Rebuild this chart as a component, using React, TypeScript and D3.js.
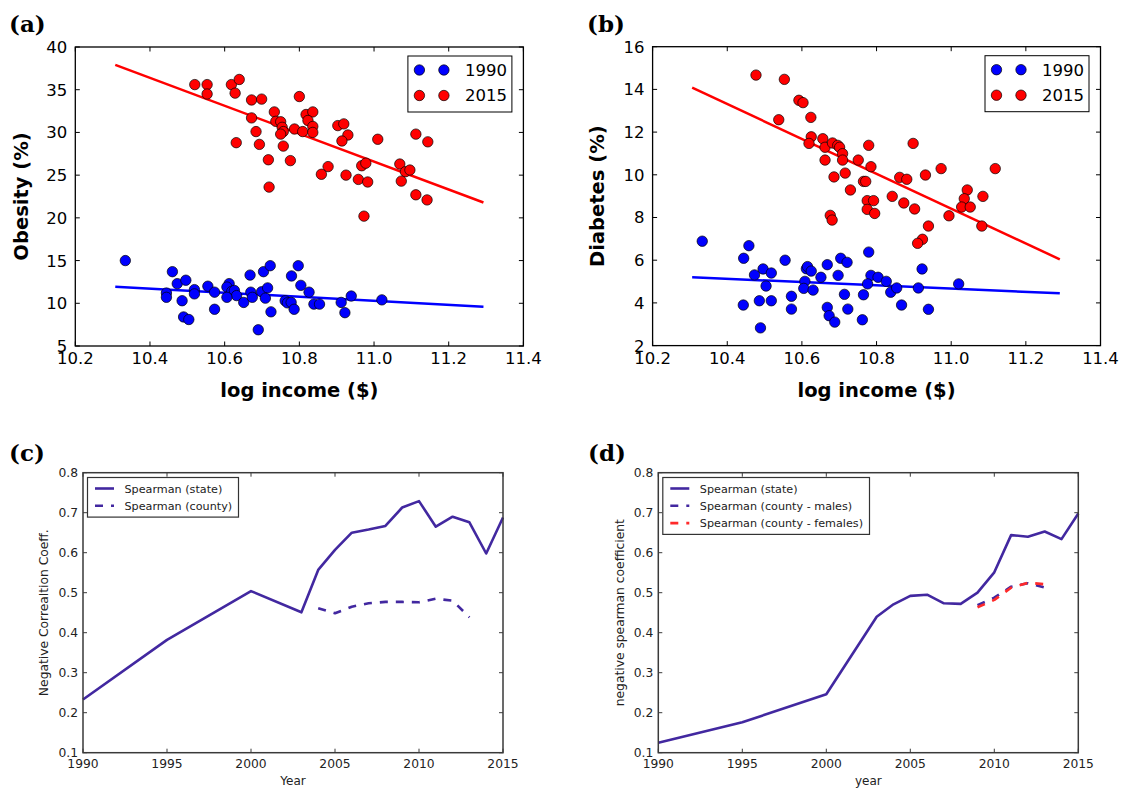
import React from 'react';
import * as d3 from 'd3';

// ---- panel (a) / (b) data : [log income, value]
const obesity1990: [number, number][] = [
  [10.334, 15.0], [10.46, 13.7], [10.473, 12.3], [10.496, 12.7], [10.444, 11.2], [10.444, 10.7],
  [10.486, 10.3], [10.519, 11.6], [10.519, 11.1], [10.49, 8.4], [10.504, 8.1], [10.555, 12.0],
  [10.573, 11.3], [10.573, 9.3], [10.612, 12.3], [10.606, 11.9], [10.619, 11.4], [10.626, 11.5],
  [10.632, 10.9], [10.606, 10.7], [10.651, 10.1], [10.668, 13.3], [10.67, 11.3], [10.674, 10.7],
  [10.69, 6.9], [10.704, 13.7], [10.722, 14.4], [10.699, 11.35], [10.715, 11.8], [10.709, 10.6],
  [10.724, 9.0], [10.762, 10.3], [10.768, 10.05], [10.778, 10.1], [10.786, 9.3], [10.779, 13.2],
  [10.797, 14.4], [10.804, 12.1], [10.826, 11.3], [10.839, 9.9], [10.854, 9.9], [10.912, 10.1],
  [10.922, 8.9], [10.939, 10.85], [11.021, 10.4],
];
const obesity2015: [number, number][] = [
  [10.52, 35.6], [10.553, 35.6], [10.553, 34.5], [10.618, 35.6], [10.639, 36.2], [10.628, 34.6],
  [10.672, 33.8], [10.699, 33.9], [10.8, 34.2], [10.672, 31.7], [10.733, 32.4], [10.737, 31.3],
  [10.75, 31.25], [10.754, 30.6], [10.757, 30.1], [10.75, 29.8], [10.684, 30.1], [10.693, 28.6],
  [10.631, 28.8], [10.757, 28.4], [10.717, 26.8], [10.776, 26.7], [10.719, 23.6], [10.787, 30.4],
  [10.809, 30.1], [10.818, 32.1], [10.836, 32.4], [10.823, 31.4], [10.836, 30.7], [10.836, 30.0],
  [10.903, 30.8], [10.919, 31.0], [10.93, 29.7], [10.914, 29.0], [11.01, 29.2], [10.877, 26.0],
  [10.859, 25.1], [10.925, 25.0], [10.967, 26.1], [10.978, 26.4], [10.958, 24.5], [10.983, 24.2],
  [10.973, 20.2], [11.069, 26.3], [11.084, 25.4], [11.096, 25.6], [11.073, 24.3], [11.112, 29.8],
  [11.144, 28.9], [11.112, 22.7], [11.142, 22.1],
];
const diabetes1990: [number, number][] = [
  [10.333, 6.89], [10.458, 6.68], [10.444, 6.09], [10.555, 6.0], [10.496, 5.59], [10.518, 5.4],
  [10.473, 5.31], [10.504, 4.79], [10.443, 3.9], [10.486, 4.1], [10.518, 4.1], [10.489, 2.83],
  [10.572, 4.31], [10.572, 3.71], [10.612, 5.6], [10.615, 5.7], [10.625, 5.49], [10.608, 5.01],
  [10.605, 4.68], [10.63, 4.6], [10.651, 5.2], [10.668, 5.79], [10.704, 6.09], [10.721, 5.9],
  [10.697, 5.29], [10.714, 4.4], [10.668, 3.79], [10.673, 3.4], [10.688, 3.1], [10.723, 3.71],
  [10.779, 6.38], [10.785, 5.29], [10.804, 5.2], [10.776, 4.89], [10.765, 4.38], [10.762, 3.21],
  [10.826, 5.01], [10.838, 4.5], [10.854, 4.7], [10.867, 3.9], [10.912, 4.7], [10.922, 5.59],
  [10.939, 3.7], [11.02, 4.89],
];
const diabetes2015: [number, number][] = [
  [10.477, 14.67], [10.553, 14.47], [10.592, 13.49], [10.603, 13.38], [10.538, 12.58], [10.624, 12.69],
  [10.625, 11.78], [10.619, 11.47], [10.656, 11.69], [10.662, 11.29], [10.662, 10.69], [10.682, 11.49],
  [10.696, 11.38], [10.701, 11.29], [10.709, 10.99], [10.709, 10.69], [10.779, 11.38], [10.751, 10.69],
  [10.716, 10.08], [10.686, 9.9], [10.73, 9.29], [10.765, 9.69], [10.771, 9.69], [10.785, 10.38],
  [10.676, 8.1], [10.681, 7.88], [10.775, 8.79], [10.792, 8.79], [10.775, 8.38], [10.795, 8.19],
  [10.898, 11.47], [10.862, 9.88], [10.881, 9.79], [10.931, 9.99], [10.973, 10.29], [10.842, 8.99],
  [10.873, 8.68], [10.902, 8.4], [10.994, 8.08], [10.939, 7.6], [10.923, 6.98], [10.91, 6.79],
  [11.043, 9.29], [11.035, 8.88], [11.028, 8.49], [11.051, 8.49], [11.085, 8.99], [11.082, 7.6],
  [11.118, 10.29],
];
// fitted lines, endpoints in data units
const obesityFit1990: [number, number][] = [[10.307, 11.93], [11.293, 9.6]];
const obesityFit2015: [number, number][] = [[10.307, 37.9], [11.293, 21.8]];
const diabetesFit1990: [number, number][] = [[10.306, 5.2], [11.291, 4.45]];
const diabetesFit2015: [number, number][] = [[10.306, 14.08], [11.291, 6.04]];

const incomeTicks = [10.2, 10.4, 10.6, 10.8, 11.0, 11.2, 11.4];
const obesityTicks = [5, 10, 15, 20, 25, 30, 35, 40];
const diabetesTicks = [2, 4, 6, 8, 10, 12, 14, 16];

// ---- panel (c) / (d) data
const yearsC = [1990, 1995, 2000, 2003, 2004, 2005, 2006, 2007, 2008, 2009, 2010, 2011, 2012, 2013, 2014, 2015];
const stateC = [0.233, 0.382, 0.504, 0.451, 0.557, 0.607, 0.65, 0.658, 0.667, 0.713, 0.729, 0.665, 0.69, 0.676, 0.598, 0.688];
const countyYearsC = [2004, 2005, 2006, 2007, 2008, 2009, 2010, 2011, 2012, 2013];
const countyC = [0.461, 0.4485, 0.465, 0.4735, 0.477, 0.477, 0.476, 0.485, 0.48, 0.4385];

const yearsD = [1990, 1995, 2000, 2003, 2004, 2005, 2006, 2007, 2008, 2009, 2010, 2011, 2012, 2013, 2014, 2015];
const stateD = [0.125, 0.176, 0.246, 0.44, 0.471, 0.492, 0.495, 0.4735, 0.472, 0.5, 0.551, 0.644, 0.64, 0.653, 0.634, 0.698];
const countyYearsD = [2009, 2010, 2011, 2012, 2013];
const malesD = [0.4685, 0.4875, 0.515, 0.5235, 0.513];
const femalesD = [0.4635, 0.482, 0.5125, 0.525, 0.521];

const yearTicks = [1990, 1995, 2000, 2005, 2010, 2015];
const coeffTicks = [0.1, 0.2, 0.3, 0.4, 0.5, 0.6, 0.7, 0.8];

const SANS = 'DejaVu Sans';
const PURPLE = '#4228a0';

type Box = { left: number; right: number; top: number; bottom: number };

const Scatter = ({ box, yDomain, yTicks, ylabel, ylabelX, blue, red, blueFit, redFit, label, labelX }: any) => {
  const x = d3.scaleLinear().domain([10.2, 11.4]).range([box.left, box.right]);
  const y = d3.scaleLinear().domain(yDomain).range([box.bottom, box.top]);
  const line = d3.line<[number, number]>().x(d => x(d[0])).y(d => y(d[1]));
  const lx = box.right - 115.5;
  const ly = box.top + 9;
  return (
    <g>
      <text x={labelX} y={32} fontFamily="DejaVu Serif" fontWeight="bold" fontSize={23}>{label}</text>
      <path d={line(redFit) || ''} stroke="#ff0000" strokeWidth={2.5} fill="none" />
      <path d={line(blueFit) || ''} stroke="#0000ff" strokeWidth={2.5} fill="none" />
      {red.map((d: [number, number], i: number) => (
        <circle key={'r' + i} cx={x(d[0])} cy={y(d[1])} r={5.2} fill="#ff0000" stroke="#000" strokeWidth={0.7} />
      ))}
      {blue.map((d: [number, number], i: number) => (
        <circle key={'b' + i} cx={x(d[0])} cy={y(d[1])} r={5.2} fill="#0000ff" stroke="#000" strokeWidth={0.7} />
      ))}
      <rect x={box.left} y={box.top} width={box.right - box.left} height={box.bottom - box.top} fill="none" stroke="#000" strokeWidth={1.3} />
      {incomeTicks.map(t => (
        <g key={'x' + t}>
          <line x1={x(t)} x2={x(t)} y1={box.bottom} y2={box.bottom - 4.5} stroke="#000" />
          <line x1={x(t)} x2={x(t)} y1={box.top} y2={box.top + 4.5} stroke="#000" />
          <text x={x(t)} y={364} textAnchor="middle" fontFamily={SANS} fontSize={16.5}>{t.toFixed(1)}</text>
        </g>
      ))}
      {yTicks.map((t: number) => (
        <g key={'y' + t}>
          <line x1={box.left} x2={box.left + 4.5} y1={y(t)} y2={y(t)} stroke="#000" />
          <line x1={box.right} x2={box.right - 4.5} y1={y(t)} y2={y(t)} stroke="#000" />
          <text x={box.left - 8} y={y(t)} dy="0.36em" textAnchor="end" fontFamily={SANS} fontSize={16.5}>{t}</text>
        </g>
      ))}
      <text x={(box.left + box.right) / 2} y={397} textAnchor="middle" fontFamily={SANS} fontWeight="bold" fontSize={19.5}>log income ($)</text>
      <text transform={`translate(${ylabelX},${(box.top + box.bottom) / 2}) rotate(-90)`} textAnchor="middle" fontFamily={SANS} fontWeight="bold" fontSize={19.5}>{ylabel}</text>
      <rect x={lx} y={ly} width={104} height={56} fill="#fff" stroke="#000" strokeWidth={1} />
      {[['#0000ff', '1990'], ['#ff0000', '2015']].map(([c, t], i) => (
        <g key={t}>
          <circle cx={lx + 11.5} cy={ly + 14 + i * 25.5} r={5.2} fill={c} stroke="#000" strokeWidth={0.7} />
          <circle cx={lx + 36} cy={ly + 14 + i * 25.5} r={5.2} fill={c} stroke="#000" strokeWidth={0.7} />
          <text x={lx + 57} y={ly + 14 + i * 25.5} dy="0.36em" fontFamily={SANS} fontSize={16.5}>{t}</text>
        </g>
      ))}
    </g>
  );
};

const LinePanel = ({ box, series, ylabel, ylabelX, xlabel, label, labelX, legendW }: any) => {
  const x = d3.scaleLinear().domain([1990, 2015]).range([box.left, box.right]);
  const y = d3.scaleLinear().domain([0.1, 0.8]).range([box.bottom, box.top]);
  const line = d3.line<[number, number]>().x(d => x(d[0])).y(d => y(d[1]));
  const lx = box.left + 4.5;
  const ly = box.top + 4.8;
  const rowH = 17.3;
  return (
    <g>
      <text x={labelX} y={461} fontFamily="DejaVu Serif" fontWeight="bold" fontSize={23}>{label}</text>
      {series.map((s: any) => (
        <path key={s.name} d={line(s.xs.map((v: number, i: number) => [v, s.ys[i]])) || ''} stroke={s.color}
          strokeWidth={2.6} fill="none" strokeDasharray={s.dash || null} strokeLinejoin="round" />
      ))}
      <rect x={box.left} y={box.top} width={box.right - box.left} height={box.bottom - box.top} fill="none" stroke="#3a3a3a" strokeWidth={1.5} />
      {yearTicks.map(t => (
        <g key={'x' + t}>
          <line x1={x(t)} x2={x(t)} y1={box.bottom} y2={box.bottom - 4} stroke="#3a3a3a" />
          <line x1={x(t)} x2={x(t)} y1={box.top} y2={box.top + 4} stroke="#3a3a3a" />
          <text x={x(t)} y={768} textAnchor="middle" fontFamily={SANS} fontSize={12.3} fill="#222">{t}</text>
        </g>
      ))}
      {coeffTicks.map(t => (
        <g key={'y' + t}>
          <line x1={box.left} x2={box.left + 4} y1={y(t)} y2={y(t)} stroke="#3a3a3a" />
          <line x1={box.right} x2={box.right - 4} y1={y(t)} y2={y(t)} stroke="#3a3a3a" />
          <text x={box.left - 5} y={y(t)} dy="0.36em" textAnchor="end" fontFamily={SANS} fontSize={12.3} fill="#222">{t.toFixed(1)}</text>
        </g>
      ))}
      <text x={(box.left + box.right) / 2} y={785} textAnchor="middle" fontFamily={SANS} fontSize={12} fill="#222">{xlabel}</text>
      <text transform={`translate(${ylabelX},${(box.top + box.bottom) / 2}) rotate(-90)`} textAnchor="middle" fontFamily={SANS} fontSize={12.3} fill="#222">{ylabel}</text>
      <rect x={lx} y={ly} width={legendW} height={series.length * rowH + 5} fill="#fff" stroke="#333" strokeWidth={1.2} />
      {series.map((s: any, i: number) => (
        <g key={'l' + s.name}>
          <line x1={lx + 7.5} x2={lx + 26.5} y1={ly + 11 + i * rowH} y2={ly + 11 + i * rowH} stroke={s.color} strokeWidth={2.6}
            strokeDasharray={s.dash || null} />
          <text x={lx + 37} y={ly + 11 + i * rowH} dy="0.36em" fontFamily={SANS} fontSize={11.2} fill="#222">{s.name}</text>
        </g>
      ))}
    </g>
  );
};

export default function App() {
  const boxA: Box = { left: 75.3, right: 523.4, top: 47, bottom: 346 };
  const boxB: Box = { left: 652.6, right: 1100.5, top: 46.7, bottom: 345.6 };
  const boxC: Box = { left: 83, right: 503, top: 472.7, bottom: 752.7 };
  const boxD: Box = { left: 658.3, right: 1078.3, top: 472.7, bottom: 752.7 };
  return (
    <svg width={1121} height={789} style={{ position: 'absolute', left: 0, top: 0, background: '#fff' }}>
      <rect width={1121} height={789} fill="#fff" />
      <Scatter box={boxA} yDomain={[5, 40]} yTicks={obesityTicks} ylabel="Obesity (%)" ylabelX={28}
        blue={obesity1990} red={obesity2015} blueFit={obesityFit1990} redFit={obesityFit2015} label="(a)" labelX={9} />
      <Scatter box={boxB} yDomain={[2, 16]} yTicks={diabetesTicks} ylabel="Diabetes (%)" ylabelX={604}
        blue={diabetes1990} red={diabetes2015} blueFit={diabetesFit1990} redFit={diabetesFit2015} label="(b)" labelX={587} />
      <LinePanel box={boxC} label="(c)" labelX={9} xlabel="Year" ylabel="Negative Correaltion Coeff." ylabelX={48} legendW={151}
        series={[
          { name: 'Spearman (state)', xs: yearsC, ys: stateC, color: PURPLE },
          { name: 'Spearman (county)', xs: countyYearsC, ys: countyC, color: PURPLE, dash: '8,8' },
        ]} />
      <LinePanel box={boxD} label="(d)" labelX={588} xlabel="year" ylabel="negative spearman coefficient" ylabelX={624} legendW={206.7}
        series={[
          { name: 'Spearman (state)', xs: yearsD, ys: stateD, color: PURPLE },
          { name: 'Spearman (county - males)', xs: countyYearsD, ys: malesD, color: PURPLE, dash: '8,8' },
          { name: 'Spearman (county - females)', xs: countyYearsD, ys: femalesD, color: '#ff2a2a', dash: '8,8' },
        ]} />
    </svg>
  );
}
